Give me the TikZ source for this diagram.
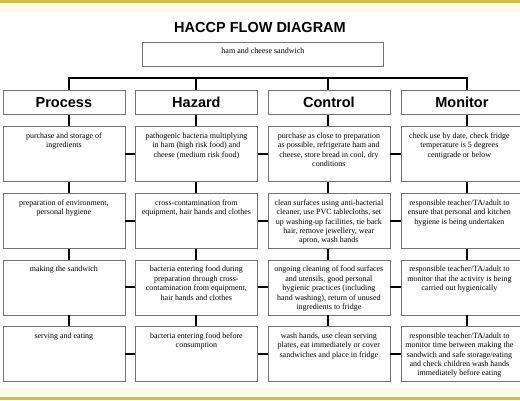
\documentclass[tikz,border=0pt]{standalone}
\usepackage{fontspec}
\setmainfont{Liberation Serif}
\newfontfamily\headfont{Liberation Sans}
\usetikzlibrary{positioning}
\definecolor{bandolive}{RGB}{206,190,72}
\definecolor{bandpale}{RGB}{252,252,234}
\definecolor{boxgray}{RGB}{115,115,115}

\begin{document}
\begin{tikzpicture}[x=1pt,y=-1pt,
  every node/.style={inner sep=0pt},
  title/.style={font=\headfont\bfseries\fontsize{14.5}{17}\selectfont},
  head/.style={draw=boxgray,line width=0.8pt,minimum width=122pt,minimum height=24pt,anchor=north west,font=\headfont\bfseries\fontsize{14.5}{17}\selectfont},
  cell/.style={draw=boxgray,line width=0.8pt,minimum width=122pt,minimum height=55pt,anchor=north west},
  txt/.style={anchor=north,align=center,font=\fontsize{8}{9.4}\selectfont,yshift=-6.5pt},
  link/.style={line width=2pt}
]
  \clip (0,0) rectangle (520,400);
  \useasboundingbox (0,0) rectangle (520,400);
  % page bands
  \fill[bandpale] (0,0) rectangle (520,12);
  \fill[bandolive] (0,0) rectangle (520,2.5);
  \fill[bandpale] (0,388) rectangle (520,400);
  \fill[bandolive] (0,397) rectangle (520,400);

  \node[title] (ttl) at (260,28) {HACCP FLOW DIAGRAM};
  \node[draw=boxgray,line width=0.8pt,minimum width=241pt,minimum height=24pt,anchor=north west] (dish) at (142,42) {};
  \node[txt,yshift=1pt] (disht) at (dish.north) {ham and cheese sandwich};

  % column headers
  \node[head] (p0) at (2.5,90) {Process};
  \node[head] (h0) at (135,90) {Hazard};
  \node[head] (c0) at (267.5,90) {Control};
  \node[head] (m0) at (400.5,90) {Monitor};

  % process
  \node[cell] (p1) at (2.5,126) {};
  \node[txt] (p1t) at (p1.north) {purchase and storage of\\ ingredients};
  \node[cell] (p2) at (2.5,193) {};
  \node[txt] (p2t) at (p2.north) {preparation of environment,\\ personal hygiene};
  \node[cell] (p3) at (2.5,259.5) {};
  \node[txt] (p3t) at (p3.north) {making the sandwich};
  \node[cell] (p4) at (2.5,326) {};
  \node[txt] (p4t) at (p4.north) {serving and eating};

  % hazard
  \node[cell] (h1) at (135,126) {};
  \node[txt] (h1t) at (h1.north) {pathogenic bacteria multiplying\\ in ham (high risk food) and\\ cheese (medium risk food)};
  \node[cell] (h2) at (135,193) {};
  \node[txt] (h2t) at (h2.north) {cross-contamination from\\ equipment, hair hands and clothes};
  \node[cell] (h3) at (135,259.5) {};
  \node[txt] (h3t) at (h3.north) {bacteria entering food during\\ preparation through cross-\\ contamination from equipment,\\ hair hands and clothes};
  \node[cell] (h4) at (135,326) {};
  \node[txt] (h4t) at (h4.north) {bacteria entering food before\\ consumption};

  % control
  \node[cell] (c1) at (267.5,126) {};
  \node[txt] (c1t) at (c1.north) {purchase as close to preparation\\ as possible, refrigerate ham and\\ cheese, store bread in cool, dry\\ conditions};
  \node[cell] (c2) at (267.5,193) {};
  \node[txt] (c2t) at (c2.north) {clean surfaces using anti-bacterial\\ cleaner, use PVC tablecloths, set\\ up washing-up facilities, tie back\\ hair, remove jewellery, wear\\ apron, wash hands};
  \node[cell] (c3) at (267.5,259.5) {};
  \node[txt] (c3t) at (c3.north) {ongoing cleaning of food surfaces\\ and utensils, good personal\\ hygienic practices (including\\ hand washing), return of unused\\ ingredients to fridge};
  \node[cell] (c4) at (267.5,326) {};
  \node[txt] (c4t) at (c4.north) {wash hands, use clean serving\\ plates, eat immediately or cover\\ sandwiches and place in fridge};

  % monitor
  \node[cell] (m1) at (401,126) {};
  \node[txt,xshift=-3pt] (m1t) at (m1.north) {check use by date, check fridge\\ temperature is 5 degrees\\ centigrade or below};
  \node[cell] (m2) at (401,193) {};
  \node[txt,xshift=-3pt] (m2t) at (m2.north) {responsible teacher/TA/adult to\\ ensure that personal and kitchen\\ hygiene is being undertaken};
  \node[cell] (m3) at (401,259.5) {};
  \node[txt,xshift=-3pt] (m3t) at (m3.north) {responsible teacher/TA/adult to\\ monitor that the activity is being\\ carried out hygienically};
  \node[cell] (m4) at (401,326) {};
  \node[txt,xshift=-3pt] (m4t) at (m4.north) {responsible teacher/TA/adult to\\ monitor time between making the\\ sandwich and safe storage/eating\\ and check children wash hands\\ immediately before eating};

  % connectors
  \coordinate (bus) at (0,78);
  \coordinate (xp) at (69,0);
  \coordinate (xh) at (196,0);
  \coordinate (xc) at (328,0);
  \coordinate (xm) at (467,0);
  \draw[link] (p0.north -| xp) |- (bus -| xm) -- (m0.north -| xm);
  \draw[link] (bus -| xh) -- (h0.north -| xh);
  \draw[link] (bus -| xc) -- (c0.north -| xc);
  \foreach \col in {p,h,c,m}{
    \foreach \r [count=\n] in {0,...,3}{
      \draw[link] (\col\r.south -| x\col) -- (\col\n.north -| x\col);
    }
  }
  \foreach \r in {1,...,4}{
    \draw[link] (p\r) -- (h\r);
    \draw[link] (h\r) -- (c\r);
    \draw[link] (c\r) -- (m\r);
  }
\end{tikzpicture}
\end{document}
